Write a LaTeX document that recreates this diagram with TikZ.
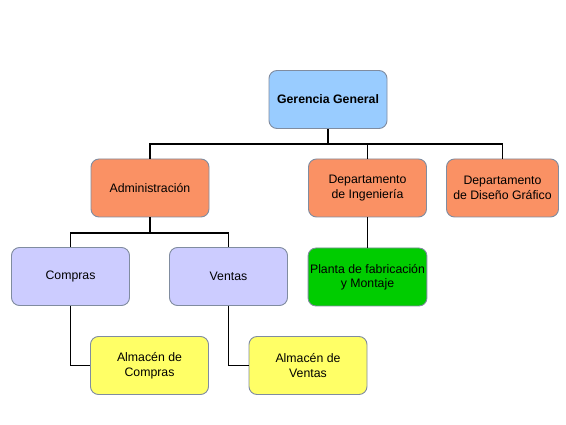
\documentclass[tikz,border=0pt]{standalone}
\usepackage{fontspec}
\setmainfont{Liberation Sans}
\definecolor{cblue}{RGB}{153,204,255}
\definecolor{corange}{RGB}{250,145,100}
\definecolor{clav}{RGB}{204,204,255}
\definecolor{cgreen}{RGB}{0,204,0}
\definecolor{cyellow}{RGB}{255,255,102}
\definecolor{cborder}{RGB}{128,140,160}
\begin{document}
\begin{tikzpicture}[x=1pt,y=-1pt,
  box/.style={draw=cborder,line width=0.9pt,rounded corners=8pt,minimum width=118pt,minimum height=58pt,align=center,inner sep=2pt,font=\fontsize{12.3}{14.5}\selectfont},
  conn/.style={draw=black,line width=1.8pt}]
\useasboundingbox[fill=white] (0,0) rectangle (566,425);
\node[box,fill=cblue,font=\fontsize{12.3}{14.5}\selectfont\bfseries] (gg) at (328,99.5) {Gerencia General};
\node[box,fill=corange] (adm) at (150,188) {Administración};
\node[box,fill=corange] (ing) at (367.5,188) {Departamento\\de Ingeniería};
\node[box,fill=corange,minimum width=112pt] (dis) at (502.5,188) {Departamento\\de Diseño Gráfico};
\node[box,fill=clav] (com) at (70.5,276.5) {Compras};
\node[box,fill=clav] (ven) at (228.5,276.5) {Ventas};
\node[box,fill=cgreen] (pla) at (367.5,277) {Planta de fabricación\\y Montaje};
\node[box,fill=cyellow] (alc) at (149.5,365.5) {Almacén de\\Compras};
\node[box,fill=cyellow] (alv) at (308,365.5) {Almacén de\\Ventas};
\coordinate (j1) at (328,144);
\coordinate (j2) at (150,233);
\draw[conn] (gg.south) -- (j1);
\draw[conn] (adm.north) |- (j1) -| (dis.north);
\draw[conn] (ing.north) -- (ing.north |- j1);
\draw[conn] (adm.south) -- (j2);
\draw[conn] (com.north) |- (j2) -| (ven.north);
\draw[conn] (ing.south) -- (pla.north);
\draw[conn] (com.south) |- (alc.west);
\draw[conn] (ven.south) |- (alv.west);
\end{tikzpicture}
\end{document}
